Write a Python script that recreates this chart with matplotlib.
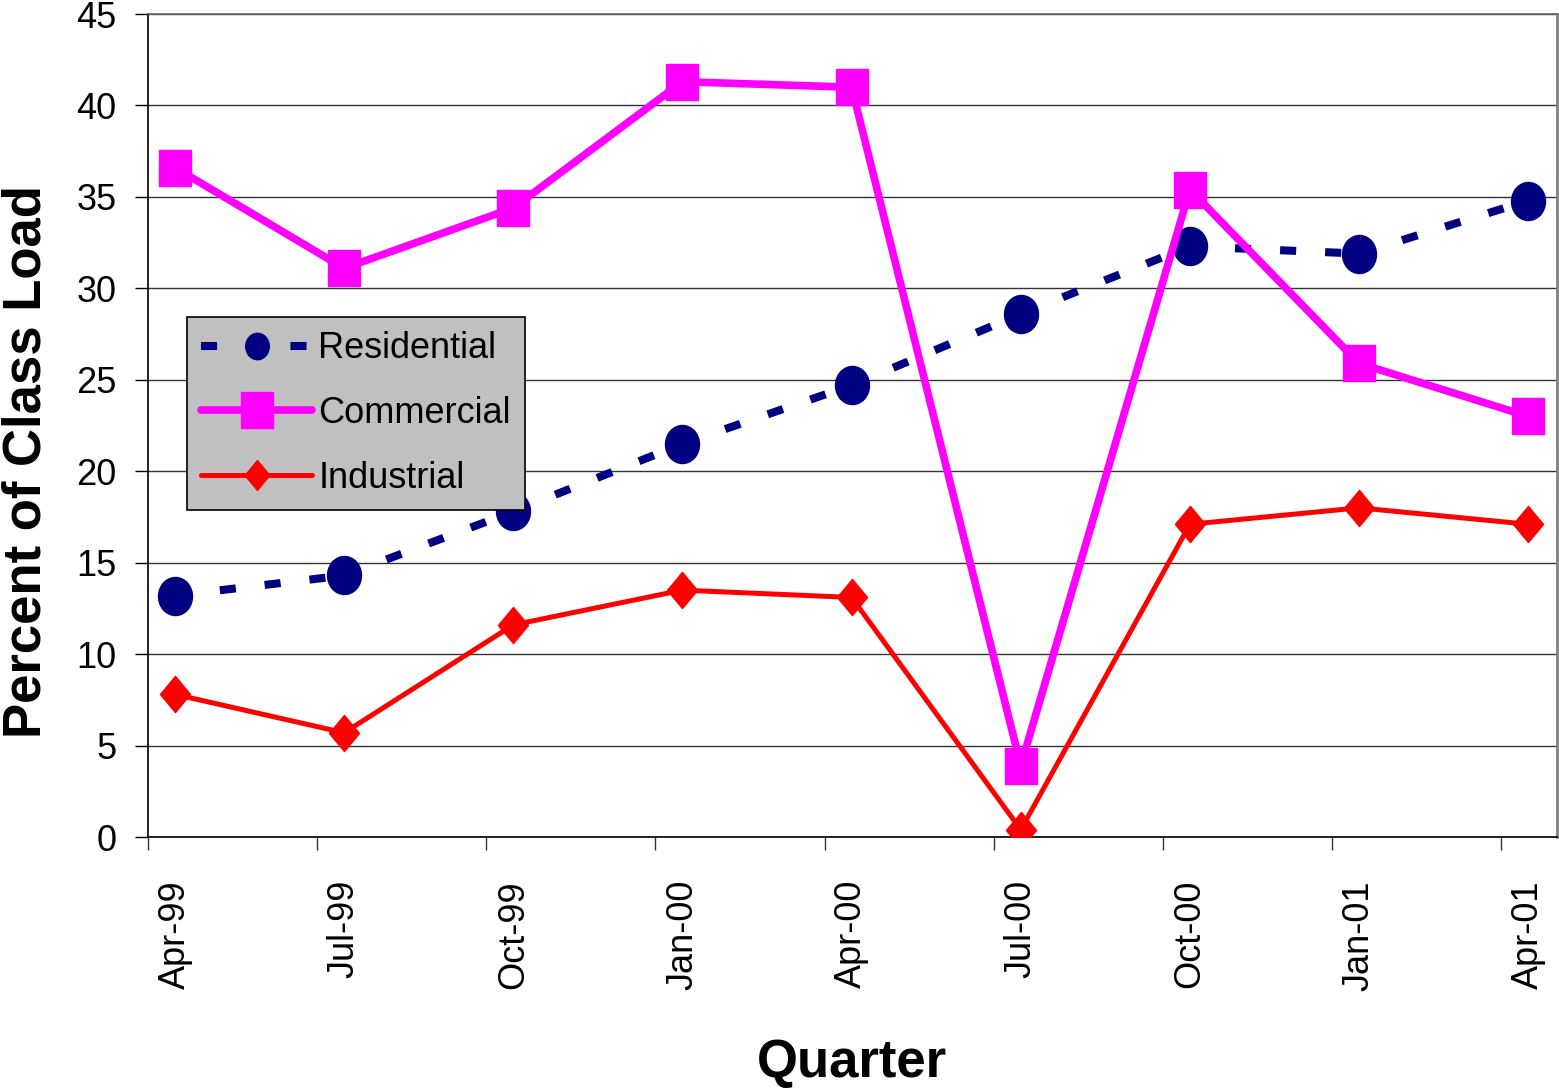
"""
Percent of class load by quarter (Residential / Commercial / Industrial).
"""

import matplotlib
matplotlib.use("Agg")
import matplotlib.pyplot as plt
import numpy as np
from matplotlib.lines import Line2D
from matplotlib.path import Path

plt.rcParams["font.family"] = ["Liberation Sans", "DejaVu Sans"]

quarters = ["Apr-99", "Jul-99", "Oct-99", "Jan-00", "Apr-00",
            "Jul-00", "Oct-00", "Jan-01", "Apr-01"]
residential = [13.2, 14.3, 17.8, 21.5, 24.7, 28.6, 32.3, 31.9, 34.8]
commercial = [36.6, 31.1, 34.4, 41.3, 41.0, 3.9, 35.4, 25.9, 23.0]
industrial = [7.8, 5.7, 11.6, 13.5, 13.1, 0.4, 17.1, 18.0, 17.1]

NAVY = "#000080"
MAGENTA = "#FF00FF"
RED = "#FF0000"


def stretched(path, sx, sy):
    # Excel markers come out a little taller than wide
    return Path(path.vertices * np.array([sx, sy]), path.codes)


ellipse = stretched(Path.unit_circle(), 1.0, 1.12)
square = Path([(-1, -1), (1, -1), (1, 1), (-1, 1), (-1, -1)],
              [Path.MOVETO, Path.LINETO, Path.LINETO, Path.LINETO, Path.CLOSEPOLY])
square = stretched(square, 1.0, 1.12)
diamond = Path([(0, -1), (1, 0), (0, 1), (-1, 0), (0, -1)],
               [Path.MOVETO, Path.LINETO, Path.LINETO, Path.LINETO, Path.CLOSEPOLY])
diamond = stretched(diamond, 1.0, 1.2)

x = np.arange(len(quarters))

fig = plt.figure(figsize=(15.59, 10.90), dpi=100)
ax = fig.add_axes([0.0949, 0.2321, 0.9038, 0.7550])

# residential: dashed, each segment restarts its dash pattern like Excel
for i in range(len(x) - 1):
    ax.plot(x[i:i + 2], residential[i:i + 2], color=NAVY, lw=5.8,
            linestyle=(0, (2.0, 3.6)), dash_capstyle="butt", zorder=3)
ax.plot(x, residential, linestyle="none", marker=ellipse, markersize=27.4,
        color=NAVY, zorder=4)

ax.plot(x, commercial, color=MAGENTA, lw=5.5, marker=square, markersize=26.6,
        zorder=5)
ax.plot(x, industrial, color=RED, lw=3.6, marker=diamond, markersize=26,
        zorder=6)

ax.set_ylim(0, 45)
ax.set_xlim(-0.16, len(x) - 1 + 0.17)
ax.set_yticks(np.arange(0, 46, 5))
ax.grid(axis="y", color="#333333", lw=1.0)
ax.set_axisbelow(True)

ax.set_xticks(x)
ax.set_xticklabels(quarters, rotation=90, va="top", ha="center")
ax.set_xticks(x - 0.16, minor=True)
ax.tick_params(axis="x", which="major", length=0, pad=31, labelsize=26)
ax.tick_params(axis="x", which="minor", length=9.5, width=1.0, color="#333333")
ax.tick_params(axis="y", length=9.5, width=1.0, pad=13, labelsize=26)

for s in ("left", "bottom"):
    ax.spines[s].set_color("black")
    ax.spines[s].set_linewidth(1.2)
ax.spines["right"].set_color("#808080")
ax.spines["right"].set_linewidth(2)
ax.spines["top"].set_color("#666666")
ax.spines["top"].set_linewidth(1.2)

handles = [
    Line2D([], [], color=NAVY, lw=5.8, linestyle=(0, (2.0, 9.1)),
           dash_capstyle="butt", marker=ellipse, markersize=19),
    Line2D([], [], color=MAGENTA, lw=5.5, marker=square, markersize=26.6,
           solid_capstyle="round"),
    Line2D([], [], color=RED, lw=3.6, marker=diamond, markersize=21.5,
           solid_capstyle="round"),
]
leg = ax.legend(handles, ["Residential", "Commercial", "Industrial"],
                loc="upper left", bbox_to_anchor=(0.0277, 0.632),
                fontsize=26, frameon=True, fancybox=False, framealpha=1,
                facecolor="#C0C0C0", edgecolor="black", handlelength=3.07,
                handletextpad=0.17, labelspacing=0.82, borderpad=0.4,
                borderaxespad=0)
leg.get_frame().set_linewidth(1.2)
leg.set_zorder(10)

fig.text(0.0173, 0.577, "Percent of Class Load", rotation=90, ha="center",
         va="center", fontsize=38, fontweight="bold")
fig.text(0.5465, 0.0248, "Quarter", ha="center", va="center", fontsize=38,
         fontweight="bold")

fig.savefig("out.png", dpi=100)
